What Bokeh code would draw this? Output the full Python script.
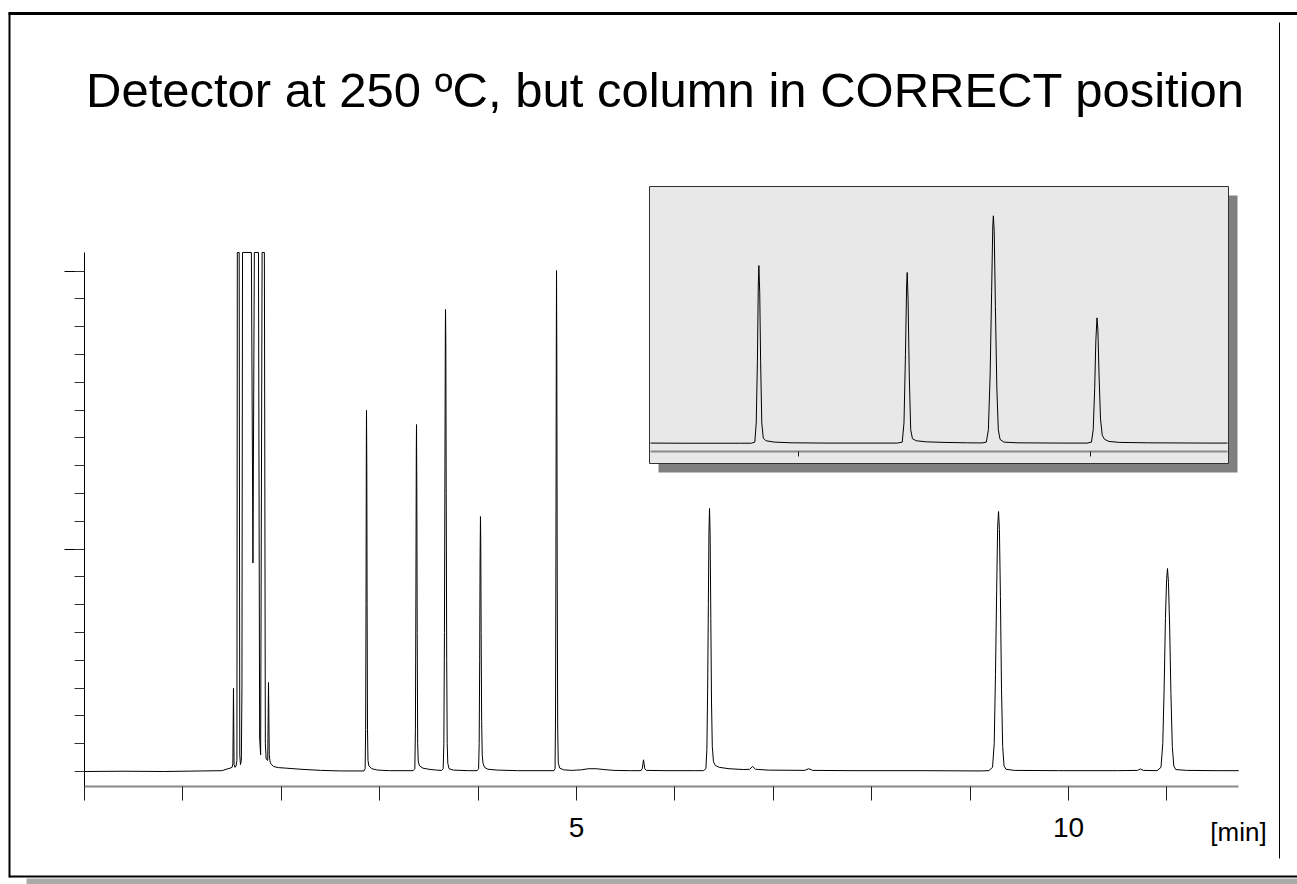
import numpy as np
from bokeh.plotting import figure
from bokeh.models import Range1d, LinearAxis, FixedTicker, Label
from bokeh.embed import file_html
from bokeh.resources import INLINE

# ---------------- data ----------------
TITLE = "Detector at 250 ºC, but column in CORRECT position"
X_UNIT = "[min]"

time_min = [
    0.00, 0.40, 0.80, 1.20, 1.40, 1.44, 1.48, 1.50,
    1.508, 1.514, 1.520, 1.530,
    1.540, 1.549, 1.553, 1.572, 1.578, 1.585,
    1.594, 1.600, 1.606, 1.696, 1.712,
    1.726, 1.768, 1.780, 1.790,
    1.805, 1.828, 1.838, 1.846,
    1.862, 1.870, 1.878, 1.884, 1.890, 1.92, 1.97, 2.05, 2.20, 2.40, 2.60, 2.80,
    2.840, 2.852, 2.857, 2.861, 2.864, 2.866, 2.869, 2.872, 2.876, 2.881, 2.890, 2.92, 2.98, 3.10,
    3.340, 3.357, 3.363, 3.368, 3.372, 3.374, 3.377, 3.381, 3.386, 3.392, 3.405, 3.44, 3.50, 3.58,
    3.630, 3.645, 3.652, 3.658, 3.663, 3.667, 3.669, 3.672, 3.676, 3.681, 3.686, 3.692, 3.705, 3.75, 3.90,
    3.990, 4.005, 4.011, 4.016, 4.020, 4.024, 4.027, 4.031, 4.036, 4.042, 4.050, 4.065, 4.10, 4.20, 4.40, 4.70,
    4.770, 4.782, 4.787, 4.791, 4.795, 4.797, 4.800, 4.804, 4.809, 4.815, 4.83, 4.87, 4.95,
    5.05, 5.12, 5.20, 5.28, 5.38, 5.55,
    5.655, 5.668, 5.676, 5.681, 5.686, 5.694, 5.71, 5.90, 6.20,
    6.290, 6.315, 6.325, 6.333, 6.340, 6.346, 6.352, 6.358, 6.365, 6.372, 6.380, 6.392, 6.41, 6.45, 6.55, 6.70,
    6.76, 6.79, 6.82, 6.95,
    7.32, 7.36, 7.40, 7.80, 8.50, 9.10,
    9.190, 9.228, 9.245, 9.258, 9.270, 9.280, 9.289, 9.298, 9.308, 9.319, 9.331, 9.345, 9.365, 9.45, 9.90, 10.50,
    10.70, 10.73, 10.76,
    10.900, 10.940, 10.958, 10.972, 10.985, 10.997, 11.006, 11.016, 11.028, 11.041, 11.055, 11.070, 11.09, 11.20, 11.50, 11.73,
]
signal = [
    2.00, 2.01, 2.00, 2.02, 2.03, 2.08, 2.12, 2.15,
    2.30, 4.99, 2.25, 2.15,
    2.20, 2.40, 30.0, 30.0, 2.60, 2.25,
    2.40, 5.00, 30.0, 30.0, 9.50,
    30.0, 30.0, 3.20, 2.60,
    30.0, 30.0, 3.00, 2.45,
    2.40, 5.20, 2.60, 2.40, 2.30, 2.18, 2.14, 2.12, 2.08, 2.04, 2.02, 2.02,
    2.02, 2.10, 3.50, 8.00, 13.5, 14.99, 13.0, 8.00, 3.50, 2.40, 2.20, 2.10, 2.05, 2.03,
    2.03, 2.10, 3.50, 8.50, 13.5, 14.48, 12.5, 7.00, 3.00, 2.35, 2.20, 2.12, 2.08, 2.05,
    2.04, 2.10, 3.00, 7.00, 13.0, 17.8, 18.62, 17.5, 12.0, 6.00, 3.00, 2.30, 2.10, 2.05, 2.03,
    2.03, 2.10, 3.00, 6.00, 9.50, 11.17, 10.3, 7.00, 3.80, 2.60, 2.30, 2.15, 2.08, 2.05, 2.03, 2.03,
    2.03, 2.10, 4.00, 10.0, 17.5, 20.02, 17.0, 9.00, 3.50, 2.30, 2.12, 2.06, 2.04,
    2.06, 2.10, 2.10, 2.07, 2.04, 2.03,
    2.03, 2.10, 2.30, 2.42, 2.30, 2.10, 2.04, 2.03, 2.03,
    2.03, 2.10, 2.80, 5.00, 8.00, 10.6, 11.46, 10.5, 7.50, 4.50, 2.90, 2.35, 2.22, 2.15, 2.10, 2.07,
    2.08, 2.18, 2.08, 2.05,
    2.04, 2.10, 2.04, 2.03, 2.03, 2.02,
    2.03, 2.15, 3.00, 5.50, 8.50, 10.8, 11.35, 10.7, 8.30, 5.00, 2.90, 2.20, 2.08, 2.04, 2.03, 2.03,
    2.04, 2.09, 2.04,
    2.03, 2.15, 3.00, 5.00, 7.50, 8.90, 9.30, 8.80, 7.20, 4.80, 2.90, 2.20, 2.07, 2.04, 2.03, 2.03,
]
x_ticks = list(range(0, 12))
x_tick_text = {5: "5", 10: "10"}
y_major_ticks = [10, 20]
y_minor_ticks = list(range(2, 21))
inset_ticks = [3, 4]
SIGNAL_CLIP = 20.67          # display saturation of the recorder trace

# ---------------- layout constants (pixels) ----------------
W, H = 1297, 884
MX0, MXS = 84.0, 98.4          # main: px of t=0, px per minute
MY0, MYS, MYV = 771.0, 27.8, 2.0   # main: px of baseline, px per unit, baseline value
IX0, IXS, IXT = 797.5, 292.0, 3.0  # inset: px of t=3 min, px per minute
IY0, IYS = 443.0, 13.7             # inset: px of baseline, px per unit
INSET_BOX = (649, 1228, 186, 463)  # left, right, top, bottom
SHADOW = 9

def mx(px): return (px - MX0) / MXS
def my(py): return MYV + (MY0 - py) / MYS
def ix(px): return IXT + (px - IX0) / IXS
def iy(py): return MYV + (IY0 - py) / IYS

FONT = "Liberation Sans"

p = figure(width=W, height=H, output_backend="svg", toolbar_location=None,
           x_range=Range1d(mx(0), mx(W)), y_range=Range1d(my(H), my(0)),
           x_axis_type=None, y_axis_type=None, min_border=0,
           outline_line_color=None, background_fill_color="white",
           border_fill_color="white")
p.grid.visible = False
p.extra_x_ranges = {"inset": Range1d(ix(0), ix(W)), "px": Range1d(0, W)}
p.extra_y_ranges = {"inset": Range1d(iy(H), iy(0)), "px": Range1d(H, 0)}

t = np.array(time_min)
s = np.minimum(np.array(signal), SIGNAL_CLIP)

# ---------- outer frame decorations ----------
p.quad(left=[26], right=[W], top=[878], bottom=[H], fill_color="#ababab",
       line_color=None, x_range_name="px", y_range_name="px")
p.segment(x0=[8, 9, 9, 1279], y0=[13, 12, 876, 22], x1=[W, 9, W, 1279], y1=[13, 877, 876, 858],
          line_color="black", line_width=[3, 2, 2, 1], x_range_name="px", y_range_name="px")

# ---------- main chromatogram ----------
p.line(t, s, line_color="black", line_width=1)

xaxis = LinearAxis(fixed_location=my(786), bounds=(0, mx(1238)),
                   ticker=FixedTicker(ticks=x_ticks, minor_ticks=[]),
                   major_label_overrides={k: x_tick_text.get(k, "") for k in x_ticks},
                   axis_line_color="#8a8a8a", axis_line_width=2,
                   major_tick_line_color="#202020", major_tick_out=14, major_tick_in=0,
                   minor_tick_out=0, minor_tick_in=0,
                   major_label_text_font=FONT, major_label_text_font_size="28px",
                   major_label_text_color="black", major_label_standoff=17)
p.add_layout(xaxis, "below")

yaxis = LinearAxis(fixed_location=0, bounds=(my(786), SIGNAL_CLIP),
                   ticker=FixedTicker(ticks=y_major_ticks, minor_ticks=y_minor_ticks),
                   major_label_overrides={k: "" for k in y_major_ticks},
                   axis_line_color="black", axis_line_width=1,
                   major_tick_line_color="black", major_tick_out=20, major_tick_in=0,
                   minor_tick_line_color="#333333", minor_tick_out=10, minor_tick_in=0,
                   major_label_text_font_size="0px")
p.add_layout(yaxis, "left")

# ---------- inset ----------
L, R, T, B = INSET_BOX
p.quad(left=[L + SHADOW], right=[R + SHADOW], top=[T + SHADOW], bottom=[B + SHADOW],
       fill_color="#808080", line_color=None, x_range_name="px", y_range_name="px")
p.quad(left=[L], right=[R], top=[T], bottom=[B], fill_color="#e8e8e8",
       line_color="#303030", line_width=1, x_range_name="px", y_range_name="px")
t0, t1 = ix(L + 1), ix(R - 1)
m = (t >= t0) & (t <= t1)
ti = np.concatenate([[t0], t[m], [t1]])
si = np.concatenate([[np.interp(t0, t, s)], s[m], [np.interp(t1, t, s)]])
p.line(ti, si, line_color="black", line_width=1, x_range_name="inset", y_range_name="inset")

iaxis = LinearAxis(x_range_name="inset", y_range_name="inset", fixed_location=iy(451),
                   bounds=(ix(L + 1), ix(R - 1)),
                   ticker=FixedTicker(ticks=inset_ticks, minor_ticks=[]),
                   major_label_overrides={k: "" for k in inset_ticks},
                   major_label_text_font_size="0px",
                   axis_line_color="#8a8a8a", axis_line_width=2,
                   major_tick_line_color="#202020", major_tick_out=5, major_tick_in=0,
                   minor_tick_out=0, minor_tick_in=0)
p.add_layout(iaxis, "below")

# ---------- texts ----------
p.add_layout(Label(x=665, y=89, text=TITLE, x_range_name="px", y_range_name="px",
                   text_font=FONT, text_font_size="49px", text_color="black",
                   text_align="center", text_baseline="middle"))
p.add_layout(Label(x=1238, y=831, text=X_UNIT, x_range_name="px", y_range_name="px",
                   text_font=FONT, text_font_size="26px", text_color="black",
                   text_align="center", text_baseline="middle"))

open("out.html", "w").write(file_html(p, INLINE))
